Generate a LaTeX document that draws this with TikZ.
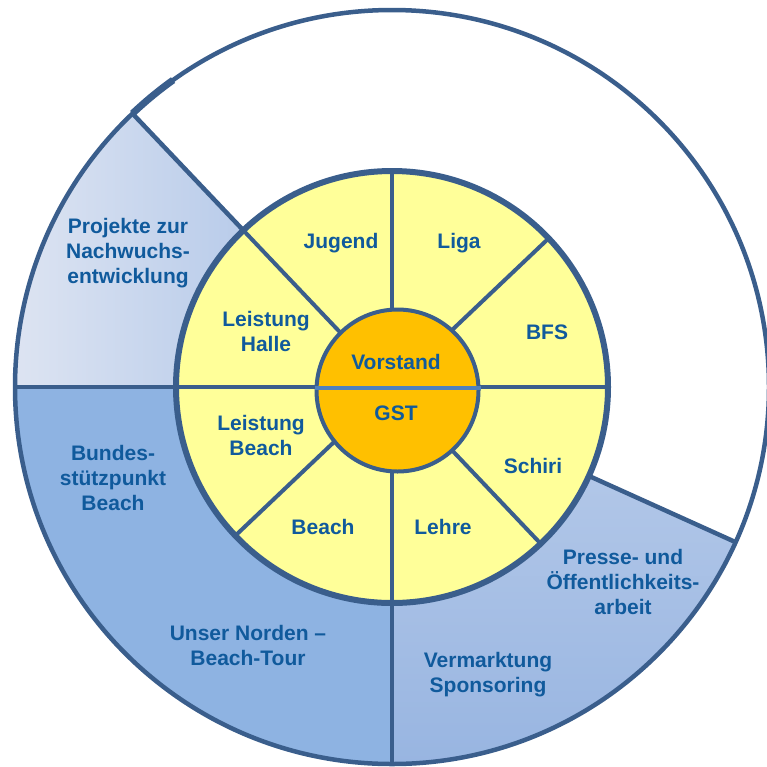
\documentclass[tikz,border=0pt]{standalone}
\usepackage{fontspec}
\setmainfont{Liberation Sans}
\definecolor{rand}{HTML}{3A5E8C}
\definecolor{schrift}{HTML}{105A9C}
\definecolor{gelb}{HTML}{FFFF99}
\definecolor{kern}{HTML}{FFC000}
\definecolor{teiler}{HTML}{4F81BD}
\definecolor{beachblau}{HTML}{8EB3E2}
\definecolor{hellblau}{HTML}{DDE4F2}
\definecolor{mittelblau}{HTML}{B9CCEA}
\definecolor{presseunten}{HTML}{98B5E1}
\begin{document}
\begin{tikzpicture}[x=1pt,y=1pt,line join=round,
	feld/.style={font=\fontsize{21}{25}\selectfont\bfseries,text=schrift,align=center,inner sep=0pt},
	rand/.style={draw=rand,line width=4.5pt}]
	\useasboundingbox (0,0) rectangle (767,-766);
	\coordinate (M) at (392,-387);
	\begin{scope}[shift={(M)}]
		% aeusserer Ring
		\begin{scope}
			\clip (0,0) -- (180:377) arc (180:133.5:377) -- cycle;
			\shade[left color=hellblau,right color=mittelblau] (-377,0) rectangle (-150,377);
		\end{scope}
		\fill[beachblau] (0,0) -- (180:377) arc (180:270:377) -- cycle;
		\shade[top color=mittelblau,bottom color=presseunten] (0,0) -- (270:377) arc (270:335.7:377) -- cycle;
		\draw[rand] (0,0) circle (377);
		\draw[rand,line width=7pt] (133.5:377) arc (133.5:125.5:377);
		\foreach \w in {133.5,180,270,335.7} \draw[rand] (\w:216) -- (\w:377);
		% gelber Ring
		\fill[gelb] (0,0) circle (216);
		\foreach \w in {0,43.5,90,133.5,180,223.5,270,313.5} \draw[rand,line width=4pt] (0,0) -- (\w:216);
		\draw[rand,line width=6pt] (0,0) circle (216);
		% Kern
		\node[circle,fill=kern,draw=rand,line width=4pt,minimum size=162pt,inner sep=0pt] (kern) at (5.5,-3.5) {};
		\draw[teiler,line width=4pt] ([yshift=2.5pt]kern.west) -- ([yshift=2.5pt]kern.east);
	\end{scope}
	\node[feld] (vorstand) at (396,-362) {Vorstand};
	\node[feld] (gst) at (396,-413) {GST};
	\foreach \n/\p/\t in {jugend/{341,-243}/Jugend, liga/{459,-243}/Liga, bfs/{547,-332}/BFS,
		halle/{266,-331}/{Leistung\\Halle}, lbeach/{261,-435}/{Leistung\\Beach}, schiri/{533,-466}/Schiri,
		beach/{323,-527}/Beach, lehre/{443,-527}/Lehre}
		\node[feld] (\n) at (\p) {\t};
	\node[feld] (projekte) at (128,-253) {Projekte zur\\Nachwuchs-\\entwicklung};
	\node[feld] (bundes) at (113,-478) {Bundes-\\stützpunkt\\Beach};
	\node[feld] (norden) at (248,-645) {Unser Norden --\\Beach-Tour};
	\node[feld] (presse) at (623,-582) {Presse- und\\Öffentlichkeits-\\arbeit};
	\node[feld] (vermarktung) at (488,-675) {Vermarktung\\Sponsoring};
\end{tikzpicture}
\end{document}
